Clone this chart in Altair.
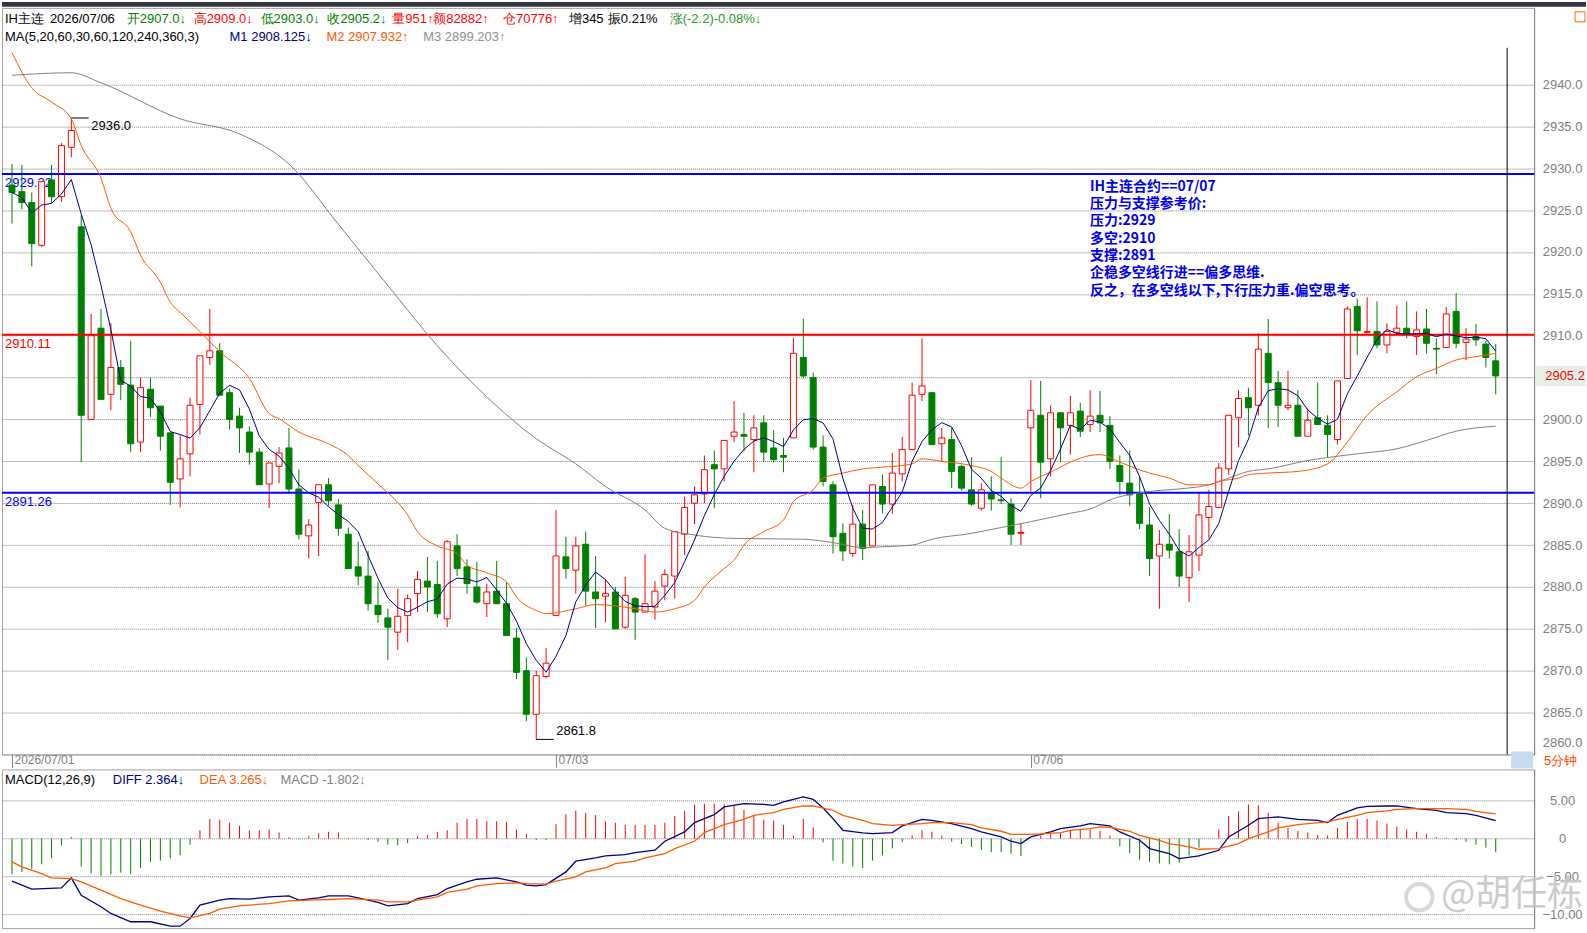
import altair as alt
import pandas as pd

# ---------------- data ----------------
opens = [2928.0, 2927.2, 2925.9, 2920.8, 2928.6, 2926.6, 2932.5, 2923.0, 2900.0, 2910.9,
         2903.0, 2906.2, 2904.1, 2897.3, 2903.6, 2901.6, 2898.4, 2892.9, 2895.9, 2901.8,
         2907.4, 2908.2, 2903.2, 2900.4, 2898.5, 2896.1, 2892.3, 2894.4, 2896.6, 2891.7,
         2886.1, 2890.1, 2892.2, 2889.8, 2886.3, 2882.4, 2881.3, 2877.8, 2876.3, 2874.6,
         2876.6, 2879.2, 2880.7, 2880.3, 2876.2, 2884.9, 2882.4, 2880.0, 2878.0, 2879.5,
         2878.0, 2873.9, 2870.0, 2864.8, 2869.3, 2876.6, 2883.6, 2882.0, 2885.1, 2879.4,
         2878.9, 2879.4, 2875.2, 2878.6, 2877.0, 2877.6, 2880.1, 2881.3, 2886.3, 2890.0,
         2891.1, 2894.6, 2894.1, 2898.0, 2898.2, 2897.6, 2899.6, 2896.6, 2895.7, 2897.8,
         2907.4, 2905.0, 2896.7, 2892.2, 2886.4, 2884.0, 2887.5, 2884.9, 2892.0, 2889.9,
         2893.5, 2896.4, 2903.0, 2903.2, 2897.1, 2897.6, 2894.4, 2891.6, 2889.4, 2891.2,
         2890.4, 2889.9, 2886.4, 2899.0, 2900.5, 2895.3, 2900.8, 2899.3, 2901.0, 2899.4,
         2900.5, 2899.3, 2894.5, 2892.4, 2891.2, 2887.4, 2883.7, 2885.1, 2884.2, 2881.1,
         2883.8, 2888.3, 2889.5, 2894.1, 2900.2, 2902.6, 2901.7, 2907.9, 2904.4, 2901.4,
         2901.7, 2898.0, 2900.2, 2899.3, 2897.6, 2904.9, 2913.5, 2910.4, 2910.5, 2908.9,
         2910.4, 2910.9, 2909.9, 2910.8, 2908.5, 2908.6, 2912.9, 2909.2, 2909.9, 2909.0,
         2907.0]
highs = [2930.5, 2930.4, 2927.1, 2928.4, 2930.4, 2933.0, 2936.0, 2924.4, 2912.6, 2913.2,
         2911.5, 2907.1, 2909.4, 2905.0, 2905.0, 2901.6, 2898.4, 2898.1, 2902.6, 2907.6,
         2913.2, 2909.1, 2903.7, 2901.4, 2899.2, 2896.6, 2894.9, 2896.7, 2899.0, 2894.0,
         2888.1, 2892.2, 2893.0, 2890.5, 2887.1, 2885.4, 2884.3, 2880.6, 2877.4, 2879.8,
         2879.1, 2881.9, 2883.6, 2883.1, 2885.6, 2886.3, 2883.3, 2883.0, 2880.4, 2883.1,
         2880.6, 2875.1, 2871.6, 2870.0, 2872.7, 2889.2, 2886.0, 2886.0, 2886.6, 2883.7,
         2880.9, 2880.0, 2881.2, 2878.8, 2883.9, 2880.7, 2882.1, 2886.6, 2890.8, 2892.0,
         2895.7, 2896.3, 2897.5, 2902.2, 2900.8, 2900.5, 2900.5, 2898.7, 2897.8, 2909.7,
         2912.0, 2905.6, 2898.1, 2892.6, 2887.6, 2889.8, 2889.2, 2892.2, 2893.4, 2896.0,
         2897.9, 2904.4, 2909.7, 2903.2, 2899.0, 2899.0, 2894.6, 2895.5, 2892.4, 2893.2,
         2895.5, 2890.6, 2887.6, 2904.7, 2904.6, 2901.7, 2900.8, 2902.8, 2902.0, 2903.5,
         2903.4, 2900.4, 2895.7, 2896.3, 2893.2, 2889.5, 2886.8, 2888.7, 2886.9, 2886.2,
         2891.2, 2891.6, 2894.8, 2900.5, 2903.5, 2903.8, 2910.3, 2912.0, 2905.8, 2905.8,
         2903.5, 2901.3, 2904.4, 2900.5, 2904.6, 2913.5, 2914.4, 2914.6, 2914.1, 2911.5,
         2913.6, 2914.1, 2912.9, 2913.2, 2909.7, 2913.4, 2915.1, 2910.9, 2911.4, 2909.4,
         2909.0]
lows = [2923.4, 2925.1, 2918.3, 2920.6, 2925.8, 2926.0, 2931.3, 2894.9, 2900.0, 2902.3,
        2901.1, 2902.3, 2896.1, 2896.1, 2900.3, 2896.3, 2889.8, 2889.5, 2893.2, 2898.2,
        2906.5, 2902.9, 2898.8, 2896.0, 2894.6, 2892.2, 2889.4, 2892.4, 2891.1, 2885.7,
        2883.4, 2883.7, 2889.7, 2886.1, 2882.2, 2880.2, 2877.2, 2875.7, 2871.3, 2872.5,
        2873.4, 2877.0, 2877.0, 2876.3, 2875.2, 2881.3, 2879.2, 2878.0, 2876.4, 2878.0,
        2874.2, 2869.0, 2864.0, 2861.8, 2869.1, 2876.6, 2881.0, 2879.2, 2877.8, 2875.1,
        2875.8, 2875.0, 2875.0, 2873.7, 2877.0, 2876.1, 2878.4, 2878.6, 2883.8, 2887.5,
        2890.0, 2889.4, 2892.6, 2897.3, 2896.2, 2893.7, 2894.9, 2894.9, 2893.7, 2897.8,
        2904.9, 2896.4, 2892.0, 2884.0, 2883.1, 2883.6, 2883.2, 2884.9, 2888.8, 2888.7,
        2892.6, 2896.4, 2902.2, 2897.0, 2894.9, 2891.8, 2891.5, 2889.7, 2889.1, 2889.1,
        2889.9, 2885.0, 2885.0, 2891.4, 2890.6, 2893.2, 2894.9, 2895.8, 2897.9, 2898.5,
        2898.5, 2894.1, 2891.0, 2889.7, 2886.9, 2881.3, 2877.4, 2883.4, 2880.0, 2878.2,
        2881.9, 2885.8, 2889.4, 2893.4, 2896.7, 2898.1, 2900.5, 2899.0, 2899.1, 2901.1,
        2898.0, 2898.0, 2899.4, 2895.5, 2897.0, 2904.9, 2907.7, 2910.3, 2908.5, 2907.9,
        2910.2, 2909.7, 2907.7, 2907.9, 2905.4, 2908.6, 2908.5, 2907.1, 2908.8, 2906.2,
        2903.0]
closes = [2927.1, 2925.9, 2921.0, 2928.4, 2926.6, 2932.7, 2934.5, 2900.5, 2910.0, 2902.4,
          2906.2, 2904.2, 2897.1, 2903.8, 2901.4, 2898.0, 2892.5, 2895.3, 2901.7, 2907.6,
          2908.2, 2902.9, 2900.0, 2899.0, 2896.1, 2892.2, 2894.8, 2896.0, 2891.7, 2886.3,
          2887.4, 2892.2, 2890.3, 2887.0, 2882.2, 2881.3, 2878.0, 2876.7, 2875.2, 2876.5,
          2878.6, 2880.9, 2880.0, 2876.8, 2885.4, 2882.2, 2880.4, 2878.2, 2879.4, 2878.0,
          2874.2, 2869.8, 2864.8, 2869.4, 2870.9, 2883.7, 2882.2, 2884.9, 2879.5, 2878.6,
          2879.2, 2875.0, 2879.0, 2877.0, 2878.0, 2879.5, 2881.5, 2886.6, 2889.5, 2891.0,
          2894.0, 2894.1, 2897.5, 2898.5, 2898.0, 2899.0, 2896.1, 2895.2, 2895.5, 2907.9,
          2905.2, 2896.7, 2892.6, 2886.0, 2884.3, 2887.5, 2884.6, 2892.2, 2889.9, 2893.6,
          2896.4, 2902.9, 2904.0, 2897.0, 2897.8, 2893.8, 2891.8, 2889.9, 2891.6, 2890.5,
          2890.3, 2886.3, 2886.5, 2901.1, 2894.9, 2900.8, 2899.0, 2900.8, 2898.6, 2900.4,
          2899.6, 2895.0, 2892.6, 2891.0, 2887.6, 2883.4, 2885.1, 2884.4, 2881.3, 2884.2,
          2888.6, 2889.6, 2894.2, 2900.5, 2902.5, 2901.4, 2908.4, 2904.4, 2901.7, 2901.7,
          2898.0, 2899.9, 2899.4, 2898.2, 2904.6, 2913.2, 2910.6, 2910.5, 2908.9, 2910.5,
          2910.9, 2910.3, 2910.7, 2909.1, 2908.4, 2912.6, 2909.1, 2909.6, 2909.5, 2907.4,
          2905.2]

# bar index of each trading-day start and its label
day_idx = [0, 55, 103]
day_text = ["2026/07/01", "07/03", "07/06"]

# MA20 (orange) and MA60 (grey) at bar indices
m2_idx = [0, 2, 4, 6, 7, 9, 10, 12, 13, 15, 16, 17, 19, 21, 24, 26, 27, 29, 32, 34, 35, 37,
          40, 41, 43, 45, 46, 48, 50, 51, 53, 54, 57, 59, 63, 65, 67, 69, 70, 72, 73, 74,
          76, 78, 79, 81, 82, 84, 86, 88, 91, 92, 94, 97, 99, 100, 102, 103, 105, 107, 109,
          110, 112, 115, 117, 119, 121, 122, 124, 125, 127, 130, 133, 135, 137, 140, 142,
          144, 146, 148, 150]
m2_val = [2943.8, 2939.6, 2937.9, 2935.9, 2932.7, 2928.8, 2925.2, 2922.4, 2919.6, 2916.4,
          2914.0, 2912.8, 2910.5, 2908.1, 2904.9, 2900.7, 2900.1, 2898.5, 2897.1, 2895.7,
          2894.5, 2892.3, 2888.6, 2886.6, 2884.9, 2884.0, 2882.6, 2881.7, 2880.6, 2878.8,
          2877.2, 2876.8, 2877.4, 2877.9, 2877.4, 2877.0, 2877.4, 2878.4, 2880.0, 2882.2,
          2883.2, 2885.0, 2886.6, 2888.0, 2890.2, 2891.6, 2893.0, 2893.6, 2894.1, 2894.3,
          2894.7, 2895.3, 2895.0, 2894.5, 2893.8, 2893.0, 2891.8, 2892.6, 2893.7, 2894.9,
          2895.7, 2895.8, 2894.9, 2893.6, 2893.0, 2892.2, 2892.2, 2892.6, 2893.0, 2893.4,
          2893.6, 2893.8, 2894.7, 2897.3, 2900.5, 2903.3, 2905.1, 2906.1, 2907.1, 2907.5,
          2907.9]
m3_idx = [0, 6, 9, 17, 23, 28, 33, 38, 43, 48, 53, 57, 60, 64, 66, 69, 73, 80, 83, 86,
          88, 91, 93, 97, 100, 103, 107, 109, 111, 115, 118, 121, 123, 125, 127, 131, 136,
          140, 143, 146, 150]
m3_val = [2941.1, 2941.4, 2940.2, 2935.9, 2934.1, 2930.5, 2923.3, 2916.0, 2908.8, 2902.7,
          2897.7, 2894.7, 2892.0, 2889.2, 2887.0, 2886.2, 2885.8, 2885.7, 2885.3, 2884.7,
          2884.8, 2885.0, 2885.7, 2886.4, 2887.1, 2887.8, 2888.8, 2889.3, 2890.4, 2891.4,
          2891.7, 2892.2, 2893.0, 2893.8, 2894.1, 2895.1, 2895.9, 2896.5, 2897.5, 2898.6,
          2899.2]

# MACD(12,26,9)
diff_idx = [0, 2, 5, 6, 7, 9, 10, 12, 14, 16, 17, 18, 19, 21, 22, 24, 26, 28, 29, 31, 32,
            34, 35, 37, 38, 40, 41, 43, 44, 46, 47, 49, 51, 52, 53, 54, 56, 57, 59, 60, 62,
            63, 65, 66, 68, 69, 71, 72, 74, 76, 77, 78, 80, 81, 82, 83, 84, 86, 87, 89, 90,
            92, 93, 95, 97, 98, 100, 101, 102, 103, 105, 106, 108, 109, 111, 112, 114, 115,
            117, 118, 120, 122, 123, 125, 126, 128, 130, 132, 133, 134, 136, 137, 139, 140,
            142, 144, 145, 147, 148, 150]
diff_val = [-5.63, -6.68, -6.51, -5.19, -7.48, -9.01, -9.89, -10.99, -10.99, -11.57, -11.57,
            -10.55, -8.80, -8.14, -7.92, -8.00, -7.70, -7.56, -8.14, -7.83, -7.56, -7.56,
            -7.83, -8.44, -8.88, -8.58, -7.92, -7.39, -6.60, -5.72, -5.37, -5.19, -5.72,
            -6.16, -6.24, -6.07, -4.40, -2.99, -2.55, -2.29, -2.11, -1.85, -1.54, -0.35,
            0.88, 2.11, 3.17, 4.18, 4.62, 4.53, 4.40, 4.84, 5.50, 5.19, 4.05, 2.64, 1.10,
            0.75, 0.66, 0.79, 1.67, 2.55, 2.42, 1.98, 1.32, 0.88, 0.22, -0.35, -0.66, 0.22,
            0.88, 1.32, 1.67, 1.98, 1.67, 0.88, -0.22, -1.32, -1.98, -2.64, -2.29, -1.54,
            0.22, 1.76, 2.64, 2.86, 2.55, 2.42, 2.11, 3.08, 4.05, 4.27, 4.31, 4.31, 3.96,
            3.74, 3.43, 3.30, 3.08, 2.364]
dea_idx = [0, 1, 3, 4, 6, 7, 9, 11, 13, 15, 17, 18, 20, 21, 23, 26, 28, 30, 32, 34, 35, 37,
           38, 40, 41, 43, 44, 46, 47, 49, 51, 52, 54, 55, 57, 58, 60, 61, 63, 64, 66, 67,
           69, 70, 72, 74, 75, 77, 78, 80, 81, 83, 84, 86, 87, 89, 90, 92, 93, 95, 97, 98,
           100, 101, 103, 104, 106, 107, 109, 110, 111, 113, 114, 116, 117, 119, 120, 122,
           124, 125, 127, 128, 130, 131, 133, 134, 136, 137, 139, 140, 142, 145, 147, 148,
           150]
dea_val = [-3.08, -3.74, -4.62, -5.19, -5.28, -5.72, -6.82, -7.92, -8.80, -9.59, -10.20,
           -10.47, -9.89, -9.32, -8.88, -8.58, -8.22, -8.14, -8.05, -7.92, -8.00, -8.14,
           -8.36, -8.36, -8.14, -7.70, -7.12, -6.68, -6.24, -5.94, -5.85, -5.94, -6.02,
           -5.63, -5.06, -4.40, -3.87, -3.30, -2.99, -2.55, -1.98, -1.32, -0.35, 0.79,
           1.85, 2.55, 3.08, 3.43, 3.87, 4.31, 4.31, 3.74, 3.08, 2.42, 1.98, 1.76, 1.85,
           1.98, 2.11, 2.11, 1.85, 1.41, 0.97, 0.57, 0.57, 0.62, 0.79, 1.10, 1.32, 1.54,
           1.50, 0.97, 0.44, -0.22, -0.66, -1.10, -1.41, -1.32, -0.66, 0.00, 0.88, 1.41,
           1.85, 1.98, 2.20, 2.55, 3.08, 3.43, 3.65, 3.87, 3.96, 3.96, 3.87, 3.61, 3.265]
macd_bar = [-4.7, -4.4, -4.0, -3.4, -2.6, -0.9, 0.2, -3.7, -4.6, -4.9,
            -4.7, -4.5, -4.7, -3.9, -3.1, -2.9, -2.6, -2.2, -0.8, 1.1,
            2.6, 2.5, 2.1, 1.7, 1.1, 1.1, 1.2, 0.8, 0.2, -0.1,
            0.3, 0.7, 0.9, 0.8, 0.1, 0.0, -0.2, -0.4, -0.8, -0.9,
            -0.6, 0.3, 0.5, 0.9, 1.1, 2.1, 2.6, 2.6, 2.3, 2.3,
            2.2, 1.2, 0.6, -0.2, -0.2, 1.9, 3.2, 3.7, 3.4, 3.1,
            2.3, 2.1, 1.8, 1.8, 1.8, 1.8, 2.1, 3.0, 3.7, 4.5,
            4.6, 4.6, 4.6, 4.4, 3.8, 3.1, 2.5, 2.4, 1.8, 0.4,
            2.6, 1.5, -0.5, -2.9, -3.3, -3.7, -3.9, -2.9, -2.2, -1.3,
            -0.5, 0.4, 1.1, 0.9, 0.4, -0.4, -0.7, -1.1, -1.5, -1.8,
            -1.8, -2.0, -2.3, 0.0, 0.4, 0.6, 0.8, 1.0, 1.1, 1.2,
            1.0, 0.4, -1.0, -1.9, -2.8, -3.1, -3.3, -3.4, -3.2, -2.2,
            -1.2, 0.0, 1.2, 3.0, 3.6, 4.5, 4.4, 3.4, 2.1, 1.4,
            1.0, 0.8, 0.5, 0.4, 1.4, 2.2, 2.6, 2.6, 2.4, 2.0,
            1.6, 1.2, 0.9, 0.6, 0.2, 0.1, -0.2, -0.4, -0.8, -1.2,
            -1.802]

levels = [2929.32, 2910.11, 2891.26]
level_colors = ["#0000ff", "#ff0000", "#0000ff"]

note_lines = ["IH主连合约==07/07", "压力与支撑参考价:", "压力:2929", "多空:2910", "支撑:2891",
              "企稳多空线行进==偏多思维.", "反之，在多空线以下,下行压力重.偏空思考。"]

# ---------------- styles ----------------
RED, GREEN, NAVY, ORANGE, GREY = "#ff0000", "#008000", "#000080", "#ff5a00", "#808080"
W, H1, H2 = 1535, 748, 159
FONT = "Liberation Sans"

N = len(closes)
df = pd.DataFrame({"i": list(range(N)), "open": opens, "high": highs, "low": lows, "close": closes})
xs = alt.Scale(domain=[-1.01, 153.88], nice=False, zero=False, padding=0)
ys = alt.Scale(domain=[2860, 2949.15], nice=False, zero=False, padding=0)
up = "datum.close >= datum.open"

day_expr = " : ".join(
    [f"datum.value == {d} ? '{t}'" for d, t in zip(day_idx[:-1], day_text[:-1])]) + f" : '{day_text[-1]}'"

x_main = alt.X("i:Q", scale=xs, axis=alt.Axis(
    values=day_idx, labelExpr=day_expr, grid=False, domain=False, ticks=True, tickSize=13,
    tickColor=GREY, labelAlign="left", labelBaseline="top", labelPadding=-13, labelOffset=2,
    labelColor=GREY, labelFontSize=12, labelFlush=False, title=None))
y_axis_main = alt.Axis(orient="right", values=list(range(2860, 2945, 5)), format=".1f", grid=True,
                       gridDash=[1, 1], gridColor=GREY, ticks=False, domainColor=GREY,
                       labelColor=GREY, labelFontSize=13, labelPadding=28, labelAlign="center",
                       labelFlush=True, labelFlushOffset=-5, title=None)

base = alt.Chart(df)
wicks = base.mark_rule(strokeWidth=1).encode(
    x=x_main, y=alt.Y("low:Q", scale=ys, axis=y_axis_main), y2="high:Q",
    color=alt.condition(up, alt.value(RED), alt.value(GREEN)))
bodies = base.mark_bar(size=6, strokeWidth=1).encode(
    x="i:Q", y="open:Q", y2="close:Q",
    fill=alt.condition(up, alt.value("white"), alt.value(GREEN)),
    stroke=alt.condition(up, alt.value(RED), alt.value(GREEN)))

m1 = base.transform_window(ma5="mean(close)", frame=[-4, 0], sort=[alt.SortField("i")]).mark_line(
    color=NAVY, strokeWidth=1).encode(x="i:Q", y="ma5:Q")
m2 = alt.Chart(pd.DataFrame({"i": m2_idx, "v": m2_val})).mark_line(
    color=ORANGE, strokeWidth=1, interpolate="monotone").encode(x="i:Q", y="v:Q")
m3 = alt.Chart(pd.DataFrame({"i": m3_idx, "v": m3_val})).mark_line(
    color=GREY, strokeWidth=1, interpolate="monotone").encode(x="i:Q", y="v:Q")

lv = pd.DataFrame({"v": levels, "c": level_colors, "t": [f"{v:.2f}" for v in levels]})
level_rules = alt.Chart(lv).mark_rule(strokeWidth=2).encode(
    y="v:Q", color=alt.Color("c:N", scale=None))
level_text = alt.Chart(lv).mark_text(align="left", baseline="middle", fontSize=13, dy=9).encode(
    x=alt.value(3), y="v:Q", text="t:N", color=alt.Color("c:N", scale=None))

hi_i = highs.index(max(highs)); hi_v = max(highs)
lo_i = lows.index(min(lows)); lo_v = min(lows)
ext = pd.DataFrame({"i": [hi_i, lo_i], "i2": [hi_i + 1.76, lo_i + 1.76], "v": [hi_v, lo_v],
                    "t": [f"{hi_v:.1f}", f"{lo_v:.1f}"]})
ext_rules = alt.Chart(ext).mark_rule(color="black", strokeWidth=1).encode(x="i:Q", x2="i2:Q", y="v:Q")
ext_hi = alt.Chart(ext.iloc[[0]]).mark_text(align="left", baseline="middle", fontSize=13, dx=20, dy=8,
                                           color="black").encode(x="i:Q", y="v:Q", text="t:N")
ext_lo = alt.Chart(ext.iloc[[1]]).mark_text(align="left", baseline="middle", fontSize=13, dx=20, dy=-8,
                                           color="black").encode(x="i:Q", y="v:Q", text="t:N")


def txt(text, x, y, color, size=13, align="left", font=None, weight=None, opacity=None):
    kw = {}
    if font:
        kw["font"] = font
    if weight:
        kw["fontWeight"] = weight
    if opacity is not None:
        kw["opacity"] = opacity
    return alt.Chart(pd.DataFrame({"t": [text]})).mark_text(
        align=align, baseline="middle", fontSize=size, color=color, **kw).encode(
        x=alt.value(x), y=alt.value(y), text="t:N")


def box(x, x2, y, y2, fill, stroke=None):
    kw = {"fill": fill}
    if stroke:
        kw["stroke"] = stroke
        kw["strokeWidth"] = 1
    return alt.Chart(pd.DataFrame({"a": [0]})).mark_rect(**kw).encode(
        x=alt.value(x), x2=alt.value(x2), y=alt.value(y), y2=alt.value(y2))


header1 = [("IH主连", 3, "black"), ("2026/07/06", 48, "black"), ("开2907.0↓", 125, GREEN),
           ("高2909.0↓", 192, RED), ("低2903.0↓", 259, GREEN), ("收2905.2↓", 326, GREEN),
           ("量951↑", 391, RED), ("额82882↑", 432, RED), ("仓70776↑", 502, RED),
           ("增345", 568, "black"), ("振0.21%", 607, "black"), ("涨(-2.2)-0.08%↓", 669, "#2a9a2a")]
header2 = [("MA(5,20,60,30,60,120,240,360,3)", 3, "black"), ("M1 2908.125↓", 228, NAVY),
           ("M2 2907.932↑", 325, ORANGE), ("M3 2899.203↑", 422, "#909090")]
head_layers = [txt(t, x, 11, c) for t, x, c in header1] + [txt(t, x, 29, c) for t, x, c in header2]

note_layers = [txt(t, 1090, 179 + 17.4 * k, "#0000ee", size=14, font="Noto Sans CJK SC", weight="bold")
               for k, t in enumerate(note_lines)]

last = closes[-1]
last_box = alt.Chart(pd.DataFrame({"a": [last + 1.2], "b": [last - 1.2]})).mark_rect(
    fill="#e6efe6").encode(x=alt.value(1537), x2=alt.value(1587), y="a:Q", y2="b:Q")
last_txt = alt.Chart(pd.DataFrame({"v": [last], "t": [f"{last:.1f}"]})).mark_text(
    align="center", baseline="middle", fontSize=13, color=RED).encode(
    x=alt.value(1566), y="v:Q", text="t:N")

decor = [
    box(0, 1587, -6, -1, "#34373d"),
    box(1576, 1586, 4, 14, "white", "#ff6600"),
    alt.Chart(pd.DataFrame({"a": [0]})).mark_rule(color="black", strokeWidth=1).encode(
        x=alt.value(1508), y=alt.value(40), y2=alt.value(748)),
    box(1512, 1534, 745, 762, "#c6daf0"),
    txt("5分钟", 1545, 755, "#ff4400"),
]

main = alt.layer(
    level_text, wicks, bodies, level_rules, m3, m2, m1, ext_rules, ext_hi, ext_lo,
    last_box, last_txt, *head_layers, *note_layers, *decor
).properties(width=W, height=H1)

# ---------------- MACD panel ----------------
ms = alt.Scale(domain=[-11.83, 9.14], nice=False, zero=False, padding=0)
y_axis_macd = alt.Axis(orient="right", values=[-10, -5, 0, 5],
                       labelExpr="datum.value == 0 ? '0' : format(datum.value, '.2f')",
                       grid=True, gridDash=[1, 1], gridColor=GREY, ticks=False, domainColor=GREY,
                       labelColor=GREY, labelFontSize=13, labelPadding=28, labelAlign="center",
                       title=None)
mdf = pd.DataFrame({"i": list(range(N)), "m": macd_bar})
hist = alt.Chart(mdf).mark_rule(strokeWidth=1).encode(
    x=alt.X("i:Q", scale=xs, axis=None),
    y=alt.Y("m:Q", scale=ms, axis=y_axis_macd), y2=alt.datum(0),
    color=alt.condition("datum.m >= 0", alt.value(RED), alt.value(GREEN)))
diff_line = alt.Chart(pd.DataFrame({"i": diff_idx, "v": diff_val})).mark_line(
    color=NAVY, strokeWidth=1.3).encode(x="i:Q", y="v:Q")
dea_line = alt.Chart(pd.DataFrame({"i": dea_idx, "v": dea_val})).mark_line(
    color=ORANGE, strokeWidth=1.3).encode(x="i:Q", y="v:Q")
macd_head = [txt("MACD(12,26,9)", 3, 11, "black"), txt("DIFF 2.364↓", 111, 11, NAVY),
             txt("DEA 3.265↓", 198, 11, ORANGE), txt("MACD -1.802↓", 279, 11, GREY)]
logo = alt.Chart(pd.DataFrame({"a": [0]})).mark_point(
    shape="circle", size=700, stroke="#cfcfcf", strokeWidth=4, filled=False, opacity=0.8).encode(
    x=alt.value(1420), y=alt.value(128))
watermark = txt("@胡任栋", 1442, 126, "#c4c4c4", size=36, font="Noto Sans CJK SC", opacity=0.85)

macd = alt.layer(hist, diff_line, dea_line, *macd_head, logo, watermark).properties(width=W, height=H2)

chart = alt.vconcat(main, macd, spacing=15, bounds="flush").properties(
    padding={"left": 0, "top": 0, "right": 0, "bottom": 0}
).configure(font=FONT).configure_view(stroke="#a0a0a0")

chart.save("out.html", embed_options={"renderer": "svg", "actions": False})
